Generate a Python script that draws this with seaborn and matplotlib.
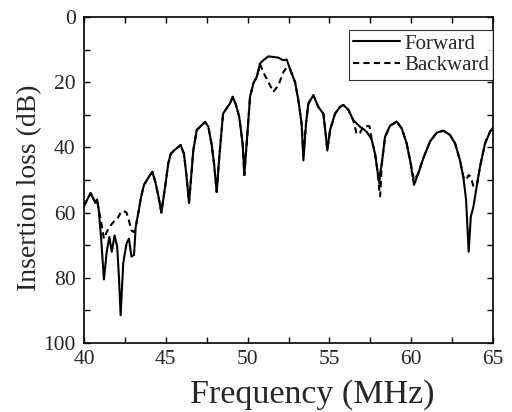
import matplotlib
matplotlib.use("Agg")
import matplotlib.pyplot as plt
import numpy as np
import pandas as pd
import seaborn as sns
from matplotlib.ticker import MultipleLocator

# Frequency grid (MHz) shared by both sweeps
freq = [
    40.0, 40.2, 40.41, 40.55, 40.71, 40.8, 40.9, 41.05, 41.22, 41.39, 41.55,
    41.7, 41.87, 42.03, 42.14, 42.24, 42.4, 42.6, 42.75, 42.9, 43.06,
    43.16, 43.36, 43.5, 43.67, 43.97, 44.18, 44.38, 44.55, 44.73, 44.99,
    45.15, 45.3, 45.5, 45.91, 46.11, 46.25, 46.42, 46.6, 46.68, 46.89,
    47.09, 47.4, 47.6, 47.8, 47.95, 48.11, 48.27, 48.5, 48.72, 48.92,
    49.09, 49.29, 49.49, 49.7, 49.8, 49.94, 50.15, 50.35, 50.56, 50.76,
    50.96, 51.27, 51.57, 51.88, 52.18, 52.39, 52.59, 52.9, 53.1, 53.3,
    53.41, 53.57, 53.71, 54.02, 54.32, 54.63, 54.79, 54.87, 55.04, 55.34,
    55.65, 55.85, 56.16, 56.46, 56.67, 56.87, 57.1, 57.28, 57.45, 57.59,
    57.79, 57.93, 58.05, 58.1, 58.2, 58.4, 58.7, 59.11, 59.42, 59.72,
    59.93, 60.17, 60.43, 60.74, 61.15, 61.56, 61.96, 62.37, 62.68, 62.98,
    63.18, 63.35, 63.51, 63.64, 63.8, 64.0, 64.2, 64.51, 64.82, 65.0,
]

loss_forward = [
    58, 56, 54, 55.5, 57, 56, 59, 68, 80.5, 72, 67.5,
    72, 67, 70.5, 80, 91.5, 75.5, 69.5, 68, 73.5, 73,
    64.5, 59, 55, 51.5, 49, 47.5, 51, 55, 60, 51,
    45, 42, 41, 39.3, 42, 48, 57, 46, 41, 34.7,
    33.7, 32.2, 33.7, 39, 45, 53.7, 43, 29.7, 28, 26.6,
    24.5, 27, 30.7, 39, 48.5, 39, 24.5, 20.4, 18.4, 14.3,
    13.3, 12.1, 12.3, 12.5, 13.3, 13.1, 16, 20, 25.5, 32.7,
    44, 32.7, 26.6, 24, 27.6, 29.7, 36.8, 41, 34.7, 29.7,
    27.6, 27, 28.5, 31.7, 32.7, 33.7, 34.5, 35.3, 36.5, 37.8,
    42, 47, 51, 48, 45, 36.8, 33.4, 32.1, 34.2, 38.8,
    44, 51.5, 48, 43.3, 38.2, 35.5, 34.9, 36.2, 38.8, 44,
    49, 56, 72, 61.3, 58.2, 52, 46, 38.8, 35.2, 34,
]

loss_backward = [
    58, 56, 54, 55.5, 57, 56, 59, 63, 68, 66, 64.5,
    63.5, 62.5, 62, 61, 60, 59.5, 60, 62.5, 65.5, 66,
    64.5, 59, 55, 51.5, 49, 47.5, 51, 55, 60, 51,
    45, 42, 41, 39.3, 42, 48, 57, 46, 41, 34.7,
    33.7, 32.2, 33.7, 39, 45, 53.7, 43, 29.7, 28, 26.6,
    24.5, 27, 30.7, 39, 48.5, 39, 24.5, 20.4, 18.4, 14.5,
    17, 20, 23, 21, 17, 15.5, 16, 20, 25.5, 32.7,
    42, 32.7, 26.6, 24, 27.6, 29.7, 36.8, 41, 34.7, 29.7,
    27.6, 27, 28.5, 31.7, 36, 35.5, 33.5, 33.5, 33.5, 37.8,
    42, 47, 53, 55, 45, 36.8, 33.4, 32.1, 34.2, 38.8,
    44, 50, 48, 43.3, 38.2, 35.5, 34.9, 36.2, 38.8, 44,
    49, 50, 48.5, 49, 52, 52, 46, 38.8, 35.2, 34,
]

directions = ["Forward", "Backward"]

df = pd.concat([
    pd.DataFrame({"freq": freq, "loss": loss_forward, "direction": "Forward"}),
    pd.DataFrame({"freq": freq, "loss": loss_backward, "direction": "Backward"}),
])

sns.set_theme(style="ticks")
plt.rcParams["font.family"] = ["Liberation Serif", "DejaVu Serif"]

fig = plt.figure(figsize=(5.12, 4.12), dpi=100)
ax = fig.add_axes([0.164, 0.1675, 0.799, 0.7915])

sns.lineplot(
    data=df, x="freq", y="loss", style="direction", style_order=directions,
    dashes={"Forward": "", "Backward": (3, 2)}, color="black",
    linewidth=1.5, estimator=None, sort=False, ax=ax, legend=False,
)

handles = [ax.lines[0], ax.lines[1]]
leg = ax.legend(
    handles, directions, loc="upper right", bbox_to_anchor=(1.0, 0.96),
    borderaxespad=0, frameon=True, fancybox=False, fontsize=15,
    handlelength=2.25, handletextpad=0.2, borderpad=0.2, labelspacing=0.1,
)
leg.get_frame().set_edgecolor("black")
leg.get_frame().set_linewidth(0.8)

ax.set_xlim(40, 65)
ax.set_ylim(100, 0)
ax.xaxis.set_major_locator(MultipleLocator(5))
ax.xaxis.set_minor_locator(MultipleLocator(2.5))
ax.yaxis.set_major_locator(MultipleLocator(20))
ax.yaxis.set_minor_locator(MultipleLocator(10))
ax.tick_params(which="both", direction="in", top=True, right=True,
               length=4, width=1, labelsize=15.5, color="black")
ax.tick_params(axis="x", pad=5)
ax.tick_params(axis="y", pad=6)

for side in ax.spines.values():
    side.set_linewidth(1.2)
    side.set_color("black")

ax.set_xlabel("Frequency (MHz)", fontsize=24.5)
ax.xaxis.set_label_coords(0.557, -0.11, transform=ax.transAxes)
ax.xaxis.label.set_va("top")
ax.set_ylabel("Insertion loss (dB)", fontsize=20, labelpad=1)
ax.yaxis.label.set_y(0.477)

fig.savefig("out.png", dpi=100)
